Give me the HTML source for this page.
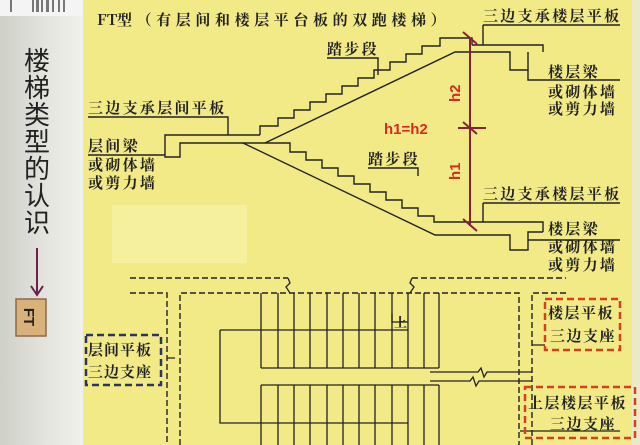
<!DOCTYPE html>
<html><head><meta charset="utf-8"><style>
html,body{margin:0;padding:0;width:640px;height:445px;overflow:hidden;background:#f1ea86}
svg{display:block}
text{font-family:"Liberation Sans","Noto Serif CJK SC","Noto Sans CJK SC",sans-serif}
.c{font-family:"Noto Serif CJK SC","Noto Sans CJK SC",serif;font-size:15px;fill:#222;font-weight:bold;letter-spacing:2.3px}
</style></head><body>
<svg width="640" height="445" viewBox="0 0 640 445" xmlns="http://www.w3.org/2000/svg">
<defs><linearGradient id="g" x1="0" x2="1"><stop offset="0" stop-color="#cfd0c8"/><stop offset="0.6" stop-color="#e6e6e0"/><stop offset="1" stop-color="#f0f0ec"/></linearGradient></defs>
<rect x="0" y="0" width="640" height="445" fill="#f1ea86"/>
<rect x="0" y="0" width="83" height="445" fill="url(#g)"/>
<rect x="0" y="0" width="83" height="16" fill="#f4f4f4"/>
<g fill="#777"><rect x="10" y="0" width="2" height="12"/><rect x="32" y="0" width="2" height="12"/><rect x="36" y="0" width="3" height="12"/><rect x="41" y="0" width="2" height="12"/><rect x="46" y="0" width="3" height="12"/><rect x="52" y="0" width="2" height="12"/><rect x="58" y="0" width="2" height="12"/><rect x="63" y="0" width="2" height="12"/></g>
<rect x="632" y="0" width="8" height="445" fill="#ebe9c8"/>
<rect x="112" y="205" width="135" height="58" fill="#f5f09e"/>
<g font-size="26" fill="#222" text-anchor="middle" style="font-family:'Noto Sans CJK SC',sans-serif">
<text x="37" y="70" style="font-family:'Noto Sans CJK SC',sans-serif">楼</text>
<text x="37" y="97" style="font-family:'Noto Sans CJK SC',sans-serif">梯</text>
<text x="37" y="124" style="font-family:'Noto Sans CJK SC',sans-serif">类</text>
<text x="37" y="151" style="font-family:'Noto Sans CJK SC',sans-serif">型</text>
<text x="37" y="178" style="font-family:'Noto Sans CJK SC',sans-serif">的</text>
<text x="37" y="205" style="font-family:'Noto Sans CJK SC',sans-serif">认</text>
<text x="37" y="232" style="font-family:'Noto Sans CJK SC',sans-serif">识</text>
</g>
<line x1="37" y1="248" x2="37" y2="293" stroke="#6b1f4a" stroke-width="2"/>
<path d="M31 286 L37 295 L43 286" fill="none" stroke="#6b1f4a" stroke-width="2"/>
<rect x="16" y="299" width="30" height="37" fill="#d9b27a" stroke="#8a6a4a" stroke-width="1.5"/>
<text x="0" y="0" transform="translate(24,317) rotate(90)" text-anchor="middle" font-size="15" font-weight="bold" fill="#222">FT</text>
<text x="97" y="25" class="c" style="letter-spacing:0">FT</text>
<text x="117" y="25" class="c" style="letter-spacing:4.6px">型（有层间和楼层平台板的双跑楼梯）</text>
<g stroke="#222" stroke-width="1.4" fill="none">
<path d="M88 117 H228 V135"/>
<path d="M88 155 H165"/>
<path d="M260 135 H165 V157 H180 V143 H265"/>
<path d="M260 135 L260 126 L278 126 L278 118 L294 118 L294 110 L310 110 L310 102 L326 102 L326 94 L342 94 L342 86 L358 86 L358 78 L374 78 L374 70 L390 70 L390 62 L406 62 L406 54 L422 54 L422 46 L440 46 L440 38 L472 38 V45"/>
<path d="M265 143 L455 52 H510 V70 H528 V52"/>
<path d="M472 45 H543 V52"/>
<path d="M327 58 H378 V75"/>
<path d="M265 143 L290 143 L290 152 L306 152 L306 160 L322 160 L322 168 L338 168 L338 176 L354 176 L354 184 L370 184 L370 192 L386 192 L386 200 L402 200 L402 208 L418 208 L418 216 L434 216 L434 222 H543 V232"/>
<path d="M243 143 L435 235 H510 V250 H528 V232 H543"/>
<path d="M368 168 H418 V176"/>
<path d="M483 25 H620"/><path d="M483 25 V45"/>
<path d="M528 70 V80 H620"/>
<path d="M483 203 H620"/><path d="M483 203 V222"/>
<path d="M528 240 H620"/>
</g>
<g stroke="#8a1f3a" stroke-width="2" fill="none">
<line x1="470" y1="38" x2="470" y2="226"/>
<line x1="463" y1="32" x2="477" y2="44"/>
<line x1="463" y1="122" x2="477" y2="134"/>
<line x1="458" y1="128" x2="486" y2="128"/>
<line x1="463" y1="219" x2="477" y2="231"/>
</g>
<g fill="#d92a1e" font-size="15" font-weight="bold">
<text x="384" y="134">h1=h2</text>
<text transform="translate(460,102) rotate(-90)">h2</text>
<text transform="translate(460,180) rotate(-90)">h1</text>
</g>
<text x="88" y="113" class="c">三边支承层间平板</text>
<text x="88" y="151" class="c">层间梁</text>
<text x="88" y="170" class="c">或砌体墙</text>
<text x="88" y="188" class="c">或剪力墙</text>
<text x="327" y="54" class="c">踏步段</text>
<text x="368" y="164" class="c">踏步段</text>
<text x="483" y="21" class="c">三边支承楼层平板</text>
<text x="548" y="77" class="c">楼层梁</text>
<text x="548" y="97" class="c">或砌体墙</text>
<text x="548" y="114" class="c">或剪力墙</text>
<text x="483" y="199" class="c">三边支承楼层平板</text>
<text x="548" y="234" class="c">楼层梁</text>
<text x="548" y="252" class="c">或砌体墙</text>
<text x="548" y="270" class="c">或剪力墙</text>
<g stroke="#222" stroke-width="1.4" fill="none" stroke-dasharray="6,3">
<path d="M130 278 H288"/>
<path d="M412 278 H566"/>
<path d="M130 293 H167 V445"/>
<path d="M180 445 V293 H519 V445"/>
<path d="M532 445 V293 H566"/>
</g>
<g stroke="#222" stroke-width="1.3" fill="none">
<path d="M288 278 L290 283 L286 287 L290 293"/>
<path d="M412 278 L410 283 L414 287 L410 293"/>
<path d="M261 293 V368 M278 293 V368 M294 293 V368 M310 293 V368 M327 293 V368 M343 293 V368 M359 293 V368 M375 293 V368 M392 293 V368 M408 293 V368 M424 293 V368 M439 293 V368"/>
<path d="M261 385 V445 M278 385 V445 M294 385 V445 M310 385 V445 M327 385 V445 M343 385 V445 M359 385 V445 M375 385 V445 M392 385 V445 M408 385 V445 M424 385 V445 M439 385 V445"/>
<path d="M261 368 H439 M261 385 H439"/>
<path d="M220 330 H408 M220 330 V423 H408"/>
<path d="M392 314 V322 H408"/>
<path d="M430 372 H478 L481 368 L484 377 L487 372 H532"/>
<path d="M430 381 H470 L473 377 L476 386 L479 381 H532"/>
<path d="M532 345 H545 M167 358 H175"/>
<path d="M520 431 H620"/>
</g>
<text x="394" y="327" class="c" style="font-size:13px">上</text>
<rect x="86" y="335" width="75" height="50" fill="none" stroke="#2a3565" stroke-width="2.5" stroke-dasharray="7,4"/>
<text x="88" y="355" class="c" style="letter-spacing:1px">层间平板</text>
<text x="88" y="377" class="c" style="letter-spacing:1px">三边支座</text>
<rect x="545" y="299" width="75" height="51" fill="none" stroke="#d6401e" stroke-width="2.5" stroke-dasharray="7,4"/>
<text x="548" y="318" class="c" style="letter-spacing:1.5px">楼层平板</text>
<text x="550" y="341" class="c" style="letter-spacing:1.5px">三边支座</text>
<rect x="525" y="387" width="110" height="51" fill="none" stroke="#d6401e" stroke-width="2.5" stroke-dasharray="7,4"/>
<text x="528" y="408" class="c" style="letter-spacing:1.5px">上层楼层平板</text>
<text x="550" y="429" class="c" style="letter-spacing:1.5px">三边支座</text>
</svg>
</body></html>
